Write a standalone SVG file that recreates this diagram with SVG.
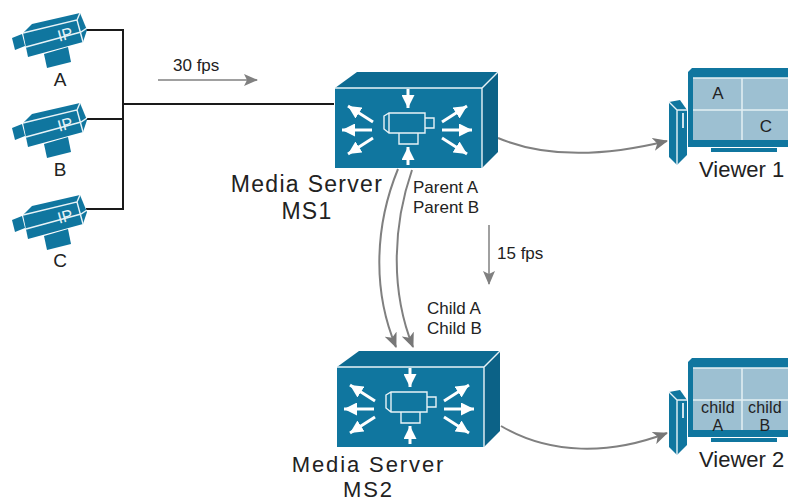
<svg xmlns="http://www.w3.org/2000/svg" width="788" height="501" viewBox="0 0 788 501">
<style>
text{font-family:"Liberation Sans",Arial,sans-serif;fill:#222}
.lbl{font-size:17px}.big{font-size:23px;letter-spacing:1.3px}.big2{font-size:22px;letter-spacing:1.9px}.vw{font-size:22px}.cam{font-size:19px;text-anchor:middle}.scr{font-size:17px;text-anchor:middle}.chd{font-size:16px;letter-spacing:.2px;text-anchor:middle}.mid{text-anchor:middle}
.blue{fill:#10769f}.dark{fill:#0d6b92}.wl{fill:none;stroke:#e8f3f7;stroke-width:1.4}
.wa{fill:none;stroke:#fff;stroke-width:3}.black{fill:none;stroke:#1a1a1a;stroke-width:2}
.gray{fill:none;stroke:#808080;stroke-width:2}
.thin{fill:none;stroke:#808080;stroke-width:1.5}
</style>
<defs>
<marker id="ah" viewBox="0 0 15 13" refX="14" refY="6.5" markerWidth="15" markerHeight="13" markerUnits="userSpaceOnUse" orient="auto"><path d="M0 0L15 6.5L0 13L4 6.5Z" fill="#777"/></marker>
<marker id="as" viewBox="0 0 14 12" refX="13" refY="6" markerWidth="14" markerHeight="12" markerUnits="userSpaceOnUse" orient="auto"><path d="M0 0L14 6L0 12L3 6Z" fill="#808080"/></marker>
<marker id="wh" viewBox="0 0 10 10" refX="10" refY="5" markerWidth="13" markerHeight="13" markerUnits="userSpaceOnUse" orient="auto"><path d="M0 0L10 5L0 10Z" fill="#fff"/></marker>
<g id="camera">
<path class="blue" d="M12 38L22 34L25 46L15 50Z"/>
<path class="blue" d="M44 54L68 47L71 62L47 68Z"/>
<path class="blue" d="M23 33L32 24L80 13L87 30L83 42L28 57Z"/>
<path class="wl" d="M23 33L77 20L80 13M77 20L83 42M26 47L81 32L87 28"/>
<text x="65" y="40" transform="rotate(-15 65 34)" style="font-size:16px;fill:#e8f3f7;text-anchor:middle">IP</text>
</g>
<g id="server">
<path class="dark" d="M335 88L357 72H498L482 88Z"/>
<path d="M482 88L498 72V152L482 168Z" fill="#0c6287"/>
<rect class="blue" x="335" y="88" width="147" height="80"/>
<path class="wl" d="M335 88H482L498 72M482 88V168"/>
<g class="wa">
<path marker-end="url(#wh)" d="M408 89V108"/><path marker-end="url(#wh)" d="M408 165V147"/>
<path marker-end="url(#wh)" d="M372 130H342"/><path marker-end="url(#wh)" d="M373 122L348 106"/><path marker-end="url(#wh)" d="M373 138L348 154"/>
<path marker-end="url(#wh)" d="M442 130H472"/><path marker-end="url(#wh)" d="M442 122L467 106"/><path marker-end="url(#wh)" d="M442 138L467 154"/>
</g>
<path class="wl" d="M384 116L389 113H425V133H389L384 129ZM389 113V133M425 118H434V128H425M399 133V144H418V133"/>
</g>
<g id="viewer">
<path class="blue" d="M669 102L680 100L687 110V155L677 165L669 157Z"/>
<path class="wl" d="M669 102L677 110V165M677 110H687"/>
<path d="M682 113H684V128H682Z" fill="#cfe3ec"/>
<path class="blue" d="M688 72L692 68H788V147H688Z"/>
<rect x="711" y="148" width="66" height="4" class="blue"/>
<rect x="693" y="78" width="95" height="62" fill="#9dc0d2"/>
<path d="M693 78H788M742 78V140M693 110H788" fill="none" stroke="#e3eff4" stroke-width="1.5"/>
</g>
</defs>
<g id="connectors">
<path class="black" d="M86 30H123V209H86M86 119H123M123 104H334"/>
<path class="thin" d="M158 80H257" marker-end="url(#as)"/>
<path class="gray" d="M498 138C550 160 610 155 667 141" marker-end="url(#ah)"/>
<path class="gray" d="M501 426C550 455 610 455 667 433" marker-end="url(#ah)"/>
<path class="gray" d="M398 169C375 225 372 290 396 347" marker-end="url(#ah)"/>
<path class="gray" d="M412 170C393 225 390 290 413 347" marker-end="url(#ah)"/>
<path class="thin" d="M489 225V284" marker-end="url(#as)"/>
</g>
<g id="cam-a"><use href="#camera"/><text class="cam" x="60" y="86">A</text></g>
<g id="cam-b"><use href="#camera" y="90"/><text class="cam" x="60" y="176">B</text></g>
<g id="cam-c"><use href="#camera" y="182"/><text class="cam" x="60" y="267">C</text></g>
<g id="ms1"><use href="#server"/><text class="big mid" x="307" y="192">Media Server</text><text class="big mid" x="307" y="219">MS1</text></g>
<g id="ms2"><use href="#server" x="2" y="279"/><text class="big2 mid" x="368.500" y="472">Media Server</text><text class="big2 mid" x="368.500" y="496.500">MS2</text></g>
<g id="viewer1"><use href="#viewer"/><text class="scr" x="718" y="99">A</text><text class="scr" x="766" y="132">C</text><text class="vw" x="699" y="177">Viewer 1</text></g>
<g id="viewer2"><use href="#viewer" y="290"/><text class="chd" x="718" y="413">child</text><text class="chd" x="718" y="431">A</text><text class="chd" x="765" y="413">child</text><text class="chd" x="765" y="431">B</text><text class="vw" x="699" y="467">Viewer 2</text></g>
<text class="lbl" x="173" y="71">30 fps</text>
<text class="lbl" x="413" y="193">Parent A</text>
<text class="lbl" x="413" y="213">Parent B</text>
<text class="lbl" x="497" y="259">15 fps</text>
<text class="lbl" x="427" y="314">Child A</text>
<text class="lbl" x="427" y="334">Child B</text>
</svg>
